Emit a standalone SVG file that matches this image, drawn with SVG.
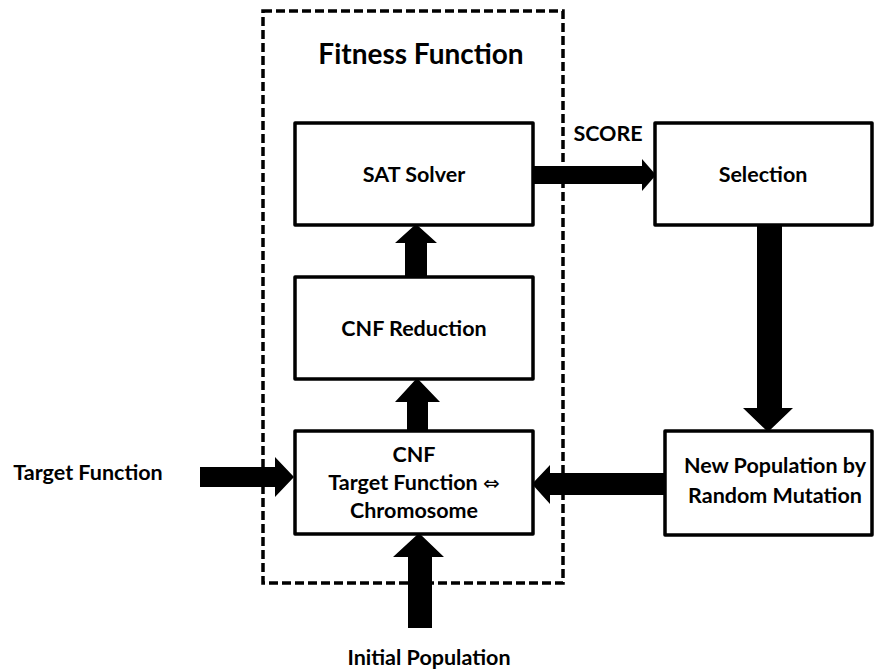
<svg xmlns="http://www.w3.org/2000/svg" width="876" height="671" viewBox="0 0 876 671">
  <style>
    .box { fill: #ffffff; stroke: #000000; stroke-width: 3.5; stroke-linejoin: round; }
    .frame { fill: none; stroke: #000000; stroke-width: 3.5; stroke-dasharray: 9 4; }
    .lbl { font-family: Lato, "Liberation Sans", sans-serif; font-weight: bold; font-size: 21.5px; fill: #000000; text-anchor: middle; }
    .title { font-size: 28px; }
    .arrow { fill: #000000; stroke: none; }
    .sym { font-weight: normal; font-family: "DejaVu Sans", sans-serif; font-size: 20px; }
  </style>
  <rect width="876" height="671" fill="#ffffff"/>

  <!-- Fitness function boundary -->
  <g id="fitness-frame">
    <rect class="frame" x="263" y="11" width="300" height="572"/>
    <text class="lbl title" x="421" y="64">Fitness Function</text>
  </g>

  <!-- Block arrows -->
  <g id="connectors">
    <!-- SAT Solver -> Selection -->
    <polygon class="arrow" points="533,166 642,166 642,159 656,175 642,191 642,184 533,184"/>
    <!-- CNF Reduction -> SAT Solver -->
    <polygon class="arrow" points="405,277 405,243 395,243 416,224 437,243 427,243 427,277"/>
    <!-- CNF -> CNF Reduction -->
    <polygon class="arrow" points="407,431 407,402 395,402 417,378 440,402 428,402 428,431"/>
    <!-- Initial population -> CNF -->
    <polygon class="arrow" points="408,628 408,557 393,557 419,533 444,557 432,557 432,628"/>
    <!-- Target function -> CNF -->
    <polygon class="arrow" points="200,467 275,467 275,457 294,477 275,497 275,487 200,487"/>
    <!-- Selection -> New population -->
    <polygon class="arrow" points="757,225 782,225 782,408 793,408 768,432 743,408 757,408"/>
    <!-- New population -> CNF -->
    <polygon class="arrow" points="665,473 550,473 550,465 532,484 550,504 550,495 665,495"/>
    <text class="lbl" x="608" y="141">SCORE</text>
  </g>

  <g id="sat-solver">
    <rect class="box" x="295" y="123" width="238" height="102"/>
    <text class="lbl" x="414" y="182">SAT Solver</text>
  </g>

  <g id="cnf-reduction">
    <rect class="box" x="295" y="277" width="238" height="102"/>
    <text class="lbl" x="414" y="336">CNF Reduction</text>
  </g>

  <g id="cnf">
    <rect class="box" x="295" y="431" width="238" height="103"/>
    <text class="lbl" x="414" y="462">CNF</text>
    <text class="lbl" x="414" y="490">Target Function <tspan class="sym">⇔</tspan></text>
    <text class="lbl" x="414" y="518">Chromosome</text>
  </g>

  <g id="selection">
    <rect class="box" x="655" y="123" width="217" height="102"/>
    <text class="lbl" x="763" y="182">Selection</text>
  </g>

  <g id="new-population">
    <rect class="box" x="665" y="431" width="207" height="104"/>
    <text class="lbl" x="775" y="473">New Population by</text>
    <text class="lbl" x="775" y="503">Random Mutation</text>
  </g>

  <g id="target-function">
    <text class="lbl" x="88" y="480">Target Function</text>
  </g>

  <g id="initial-population">
    <text class="lbl" x="429" y="665">Initial Population</text>
  </g>
</svg>
